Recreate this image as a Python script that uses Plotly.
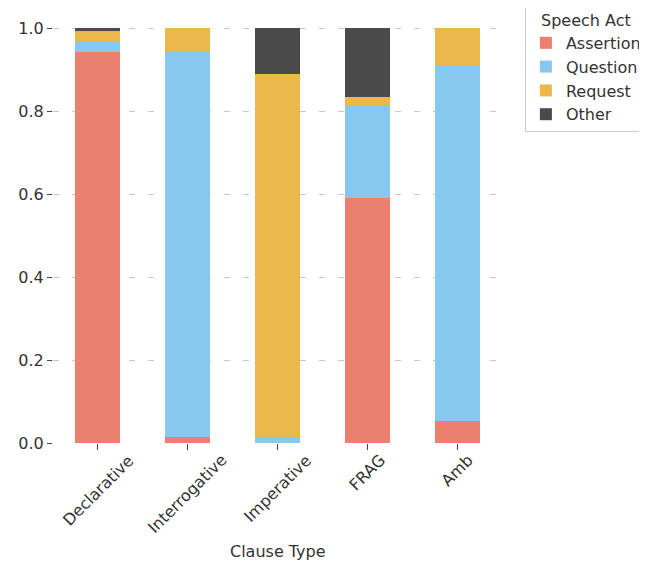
import plotly.graph_objects as go

categories = ["Declarative", "Interrogative", "Imperative", "FRAG", "Amb"]
series_names = ["Assertion", "Question", "Request", "Other"]
assertion = [0.942, 0.014, 0.0, 0.591, 0.053]
question = [0.027, 0.928, 0.012, 0.224, 0.858]
request = [0.024, 0.058, 0.877, 0.019, 0.089]
other = [0.007, 0.0, 0.111, 0.166, 0.0]
colors = ["#EC806F", "#88C8EE", "#EBB94B", "#4A4A4A"]

fig = go.Figure()
for name, vals, col in zip(series_names, [assertion, question, request, other], colors):
    fig.add_trace(go.Bar(x=categories, y=vals, name=name, marker=dict(color=col, line=dict(width=0)), width=0.5))

# centred, rotated category labels (matplotlib-style)
for cat in categories:
    fig.add_annotation(x=cat, y=-0.012, xref="x", yref="paper", text=cat,
                       textangle=-45, showarrow=False, xanchor="center", yanchor="top",
                       font=dict(size=16, color="#333333"))
fig.add_annotation(x=0.5, y=-0.262, xref="paper", yref="paper", text="Clause Type",
                   showarrow=False, xanchor="center", yanchor="middle",
                   font=dict(size=16, color="#333333"))

font = "DejaVu Sans, sans-serif"
fig.update_layout(
    barmode="stack",
    width=639, height=556,
    margin=dict(l=45, r=145, t=19, b=121, autoexpand=False),
    plot_bgcolor="white", paper_bgcolor="white",
    font=dict(family=font, size=16, color="#333333"),
    showlegend=True,
    legend=dict(
        title=dict(text="Speech Act", side="top center", font=dict(size=16)),
        x=1.051, y=1.055, xanchor="left", yanchor="top",
        bordercolor="#CCCCCC", borderwidth=1, bgcolor="white",
        font=dict(size=16), traceorder="normal", tracegroupgap=0, itemwidth=30,
    ),
    xaxis=dict(
        showticklabels=False,
        ticks="outside", ticklen=6, tickcolor="#444444",
        showgrid=False, showline=False, zeroline=False, automargin=False,
        range=[-0.5, 4.5],
    ),
    yaxis=dict(
        range=[0, 1.003], tickvals=[0, 0.2, 0.4, 0.6, 0.8, 1.0],
        ticktext=["0.0", "0.2", "0.4", "0.6", "0.8", "1.0"],
        ticks="outside", ticklen=5, tickcolor="#444444",
        showgrid=True, gridcolor="#C8C8C8", griddash="6px,13px", gridwidth=1,
        showline=False, zeroline=False, automargin=False,
    ),
)
fig.write_html("out.html")
